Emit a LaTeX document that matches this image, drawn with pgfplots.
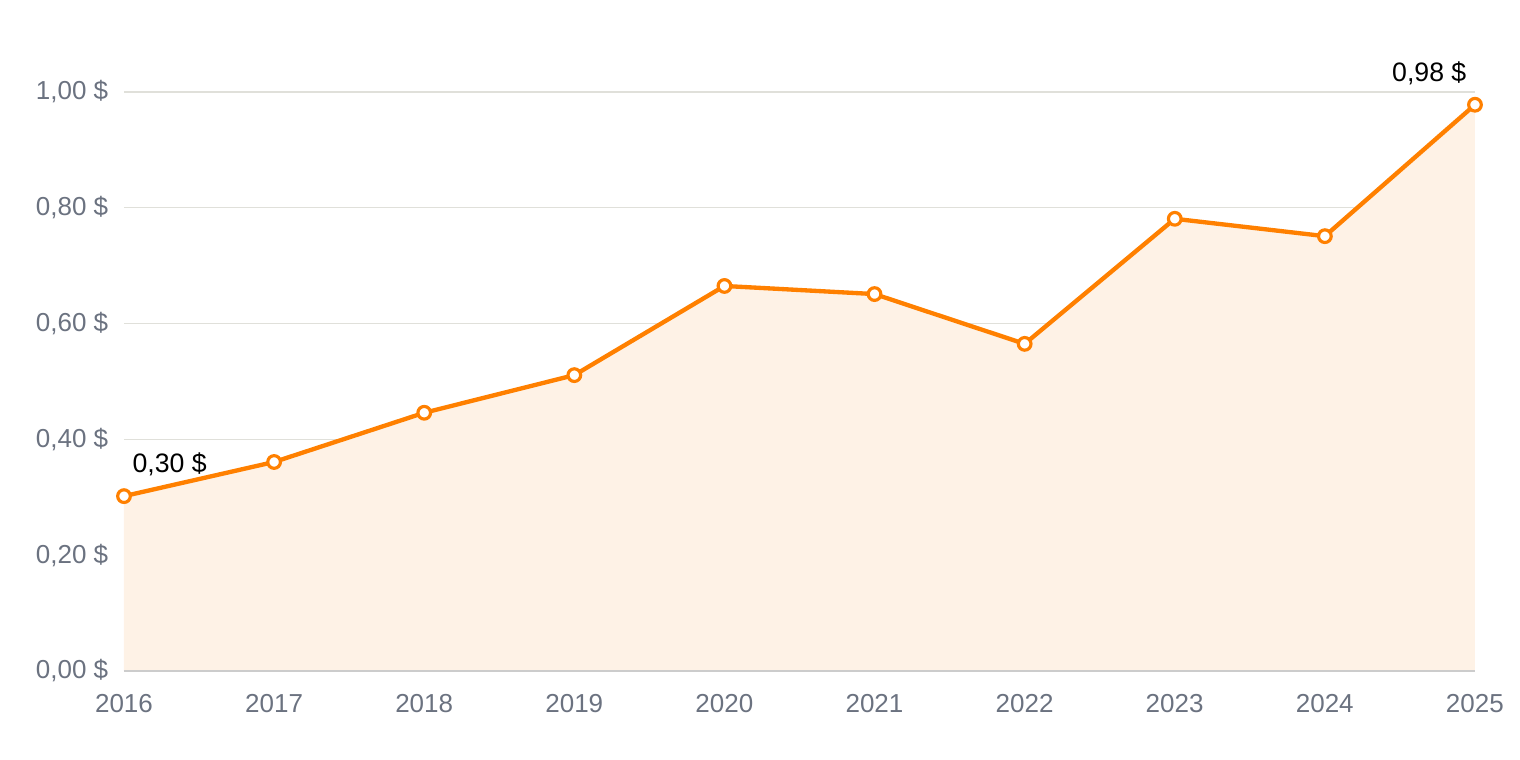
\documentclass[border=0pt]{standalone}
\usepackage{pgfplots}
\pgfplotsset{compat=1.18}
\usepackage{fontspec}
\setmainfont{Liberation Sans}
\definecolor{lineor}{RGB}{255,128,0}
\definecolor{fillor}{RGB}{254,242,230}
\definecolor{gridc}{RGB}{224,224,218}
\definecolor{axisc}{RGB}{204,204,204}
\definecolor{tickc}{RGB}{107,114,128}
\begin{document}
\begin{tikzpicture}
\path[use as bounding box] (-37.2pt,-26.7pt) rectangle (418.8pt,201.3pt);
\begin{axis}[
  at={(0,0)}, anchor=south west,
  scale only axis, width=405.3pt, height=173.7pt,
  xmin=2016, xmax=2025, ymin=0, ymax=1,
  clip=false,
  axis line style={draw=none},
  axis x line*=bottom, axis y line*=left,
  xtick={2016,...,2025},
  xticklabels={2016,2017,2018,2019,2020,2021,2022,2023,2024,2025},
  ytick={0,0.2,0.4,0.6,0.8,1.0},
  yticklabels={{0,00 \$},{0,20 \$},{0,40 \$},{0,60 \$},{0,80 \$},{1,00 \$}},
  major tick length=0pt,
  ymajorgrids, grid style={gridc, line width=0.4pt},
  tick label style={font=\fontsize{7.8}{9}\selectfont, text=tickc},
  xticklabel style={yshift=-3.6pt},
  yticklabel style={xshift=-1.2pt},
]
\addplot[fill=fillor, draw=none] coordinates {
(2016,0.302) (2017,0.361) (2018,0.446) (2019,0.511) (2020,0.665)
(2021,0.651) (2022,0.565) (2023,0.781) (2024,0.751) (2025,0.978)
} \closedcycle;
\draw[axisc, line width=0.7pt] (axis cs:2016,0) -- (axis cs:2025,0);
\addplot[lineor, line width=1.3pt, mark=*, mark size=1.9pt,
  mark options={fill=white, draw=lineor, line width=0.95pt}] coordinates {
(2016,0.302) (2017,0.361) (2018,0.446) (2019,0.511) (2020,0.665)
(2021,0.651) (2022,0.565) (2023,0.781) (2024,0.751) (2025,0.978)
};
\node[anchor=base west, font=\fontsize{8}{9}\selectfont, xshift=2.4pt, yshift=7.2pt, inner sep=0pt] at (axis cs:2016,0.302) {0,30 \$};
\node[anchor=base east, font=\fontsize{8}{9}\selectfont, xshift=-2.4pt, yshift=6.9pt, inner sep=0pt] at (axis cs:2025,0.978) {0,98 \$};
\end{axis}
\end{tikzpicture}
\end{document}
